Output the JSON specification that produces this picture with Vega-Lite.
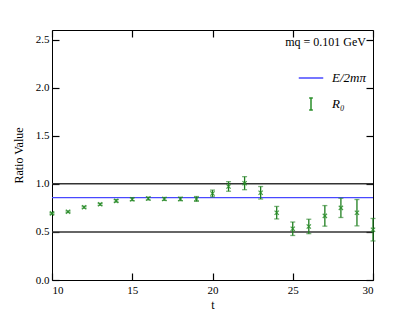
{
  "$schema": "https://vega.github.io/schema/vega-lite/v6.json",
  "width": 321,
  "height": 250,
  "autosize": {"type": "none"},
  "padding": {"left": 52, "top": 30, "right": 42, "bottom": 35},
  "config": {
    "font": "Liberation Serif",
    "view": {"stroke": "#000", "strokeWidth": 1},
    "axis": {
      "domain": false, "tickColor": "#000", "ticks": true, "tickSize": 7, "tickWidth": 1.2, "offset": -7,
      "labelFont": "Liberation Serif", "labelFontSize": 11, "labelColor": "#000",
      "titleFont": "Liberation Serif", "titleFontSize": 12, "titleFontWeight": "normal", "titleColor": "#000",
      "grid": false
    }
  },
  "datasets": {
    "ratio": [
      {"t": 10, "value": 0.693, "err": 0.008, "series": "R₀"},
      {"t": 11, "value": 0.71, "err": 0.008, "series": "R₀"},
      {"t": 12, "value": 0.757, "err": 0.01, "series": "R₀"},
      {"t": 13, "value": 0.787, "err": 0.01, "series": "R₀"},
      {"t": 14, "value": 0.823, "err": 0.013, "series": "R₀"},
      {"t": 15, "value": 0.84, "err": 0.015, "series": "R₀"},
      {"t": 16, "value": 0.847, "err": 0.015, "series": "R₀"},
      {"t": 17, "value": 0.843, "err": 0.015, "series": "R₀"},
      {"t": 18, "value": 0.843, "err": 0.018, "series": "R₀"},
      {"t": 19, "value": 0.843, "err": 0.025, "series": "R₀"},
      {"t": 20, "value": 0.90, "err": 0.035, "series": "R₀"},
      {"t": 21, "value": 0.973, "err": 0.05, "series": "R₀"},
      {"t": 22, "value": 1.007, "err": 0.068, "series": "R₀"},
      {"t": 23, "value": 0.907, "err": 0.065, "series": "R₀"},
      {"t": 24, "value": 0.70, "err": 0.065, "series": "R₀"},
      {"t": 25, "value": 0.533, "err": 0.07, "series": "R₀"},
      {"t": 26, "value": 0.557, "err": 0.075, "series": "R₀"},
      {"t": 27, "value": 0.667, "err": 0.107, "series": "R₀"},
      {"t": 28, "value": 0.75, "err": 0.10, "series": "R₀"},
      {"t": 29, "value": 0.70, "err": 0.137, "series": "R₀"},
      {"t": 30, "value": 0.523, "err": 0.117, "series": "R₀"}
    ],
    "bounds": [{"value": 1.0}, {"value": 0.5}],
    "energy": [{"value": 0.857, "series": "E/2mπ"}]
  },
  "layer": [
    {
      "data": {"name": "bounds"},
      "mark": {"type": "rule", "color": "#333", "strokeWidth": 1.5},
      "encoding": {
        "y": {"field": "value", "type": "quantitative", "scale": {"domain": [0, 2.5]}, "axis": null}
      }
    },
    {
      "data": {"name": "energy"},
      "mark": {"type": "rule", "strokeWidth": 1.3},
      "encoding": {
        "y": {"field": "value", "type": "quantitative", "axis": null},
        "color": {"field": "series", "type": "nominal",
                  "scale": {"domain": ["E/2mπ", "R₀"], "range": ["#4848ff", "#2a8f2a"]},
                  "legend": {
                    "title": "mq = 0.101 GeV", "orient": "top-right", "offset": 7,
                    "titleFont": "Liberation Serif", "titleFontSize": 12, "titleFontWeight": "normal",
                    "labelFont": "Liberation Serif", "labelFontSize": 13, "labelFontStyle": "italic",
                    "titlePadding": 16, "rowPadding": 6, "titleAlign": "right", "titleAnchor": "end",
                    "symbolStrokeWidth": 1.5, "labelOffset": 8,
                    "encode": {
                      "symbols": {"update": {
                        "shape": {"signal": "datum.value === 'R₀' ? 'M0,-0.5L0,0.5M-0.15,-0.5L0.15,-0.5M-0.15,0.5L0.15,0.5' : 'stroke'"},
                        "size": {"value": 600}
                      }}
                    }
                  }}
      }
    },
    {
      "data": {"name": "ratio"},
      "mark": {"type": "errorbar", "ticks": {"size": 5, "opacity": 0.6}, "thickness": 1.3},
      "encoding": {
        "x": {"field": "t", "type": "quantitative", "scale": {"domain": [10, 30]}, "axis": null},
        "y": {"field": "value", "type": "quantitative", "axis": null},
        "yError": {"field": "err"},
        "color": {"value": "#1f7f1f"}
      }
    },
    {
      "data": {"name": "ratio"},
      "mark": {"type": "point", "filled": false, "size": 18, "strokeWidth": 1.2, "shape": "M-1,-1L1,1M-1,1L1,-1"},
      "encoding": {
        "x": {"field": "t", "type": "quantitative",
              "axis": {"title": "t", "values": [10, 15, 20, 25, 30], "labelPadding": 4, "titlePadding": 4}},
        "y": {"field": "value", "type": "quantitative",
              "axis": {"title": "Ratio Value", "format": ".1f", "values": [0, 0.5, 1, 1.5, 2, 2.5], "labelPadding": 3, "titlePadding": 10}},
        "color": {"field": "series", "type": "nominal"},
        "opacity": {"value": 0.85}
      }
    },
    {
      "data": {"name": "bounds"},
      "mark": {"type": "rule", "opacity": 0},
      "encoding": {
        "x": {"datum": 20, "type": "quantitative",
              "axis": {"orient": "top", "labels": false, "title": null, "values": [10, 15, 20, 25, 30]}},
        "y": {"field": "value", "type": "quantitative",
              "axis": {"orient": "right", "labels": false, "title": null, "values": [0, 0.5, 1, 1.5, 2, 2.5]}}
      }
    }
  ],
  "resolve": {"axis": {"x": "independent", "y": "independent"}}
}
